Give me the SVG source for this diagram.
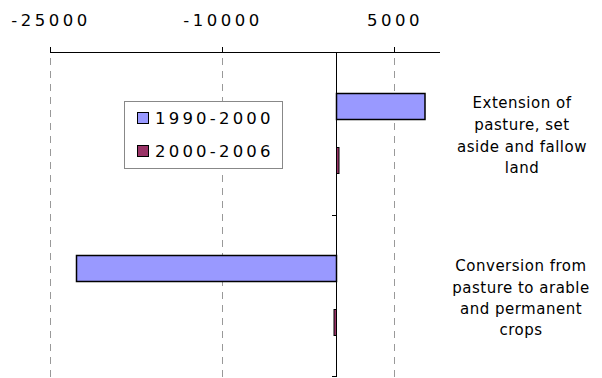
<svg xmlns="http://www.w3.org/2000/svg" width="602" height="378" viewBox="0 0 602 378">
<style>
text{font-family:"DejaVu Sans","Liberation Sans",sans-serif;fill:#000}
.tick{font-size:16.5px;letter-spacing:3.5px;text-anchor:middle}
.leg{font-size:16.5px;letter-spacing:3.2px}
.cat{font-size:15px;letter-spacing:0.5px;text-anchor:middle}
.grid{stroke:#999;stroke-width:1;stroke-dasharray:7,6}
.axis{stroke:#000;stroke-width:1;fill:none}
.b1{fill:#9999ff;stroke:#000;stroke-width:1.5}
.b2{fill:#993366;stroke:#000;stroke-width:1}
</style>
<rect width="602" height="378" fill="#fff"/>
<g id="grid">
<line class="grid" x1="50.5" y1="58" x2="50.5" y2="378"/>
<line class="grid" x1="222.5" y1="58" x2="222.5" y2="378"/>
<line class="grid" x1="394.5" y1="58" x2="394.5" y2="378"/>
</g>
<g id="axes">
<line class="axis" x1="50" y1="52.5" x2="440" y2="52.5"/>
<line class="axis" x1="50.5" y1="47" x2="50.5" y2="52"/>
<line class="axis" x1="222.5" y1="47" x2="222.5" y2="52"/>
<line class="axis" x1="336.5" y1="52" x2="336.5" y2="58"/>
<line class="axis" x1="394.5" y1="47" x2="394.5" y2="52"/>
<line class="axis" x1="336.5" y1="52" x2="336.5" y2="377"/>
<line class="axis" x1="332" y1="215.5" x2="337" y2="215.5"/>
<line class="axis" x1="332" y1="376.5" x2="337" y2="376.5"/>
<text class="tick" x="51" y="26">-25000</text>
<text class="tick" x="223" y="26">-10000</text>
<text class="tick" x="395" y="26">5000</text>
</g>
<g id="bars">
<rect class="b1" x="336.5" y="93.5" width="88.5" height="26"/>
<rect class="b2" x="336.5" y="147.5" width="2.5" height="26"/>
<rect class="b1" x="76.5" y="255.5" width="260" height="26"/>
<rect class="b2" x="334" y="309.5" width="2.5" height="26"/>
</g>
<g id="legend">
<rect x="124.5" y="101.5" width="158" height="67" fill="#fff" stroke="#888" stroke-width="1"/>
<rect x="137.5" y="112.5" width="11" height="11" fill="#9999ff" stroke="#000" stroke-width="1"/>
<text class="leg" x="155" y="124">1990-2000</text>
<rect x="137.5" y="145.5" width="11" height="11" fill="#993366" stroke="#000" stroke-width="1"/>
<text class="leg" x="155" y="157">2000-2006</text>
</g>
<g id="label1">
<text class="cat" x="522" y="108">Extension of</text>
<text class="cat" x="522" y="130">pasture, set</text>
<text class="cat" x="522" y="152">aside and fallow</text>
<text class="cat" x="522" y="173">land</text>
</g>
<g id="label2">
<text class="cat" x="521" y="271">Conversion from</text>
<text class="cat" x="521" y="292.5">pasture to arable</text>
<text class="cat" x="521" y="314">and permanent</text>
<text class="cat" x="521" y="335">crops</text>
</g>
</svg>
